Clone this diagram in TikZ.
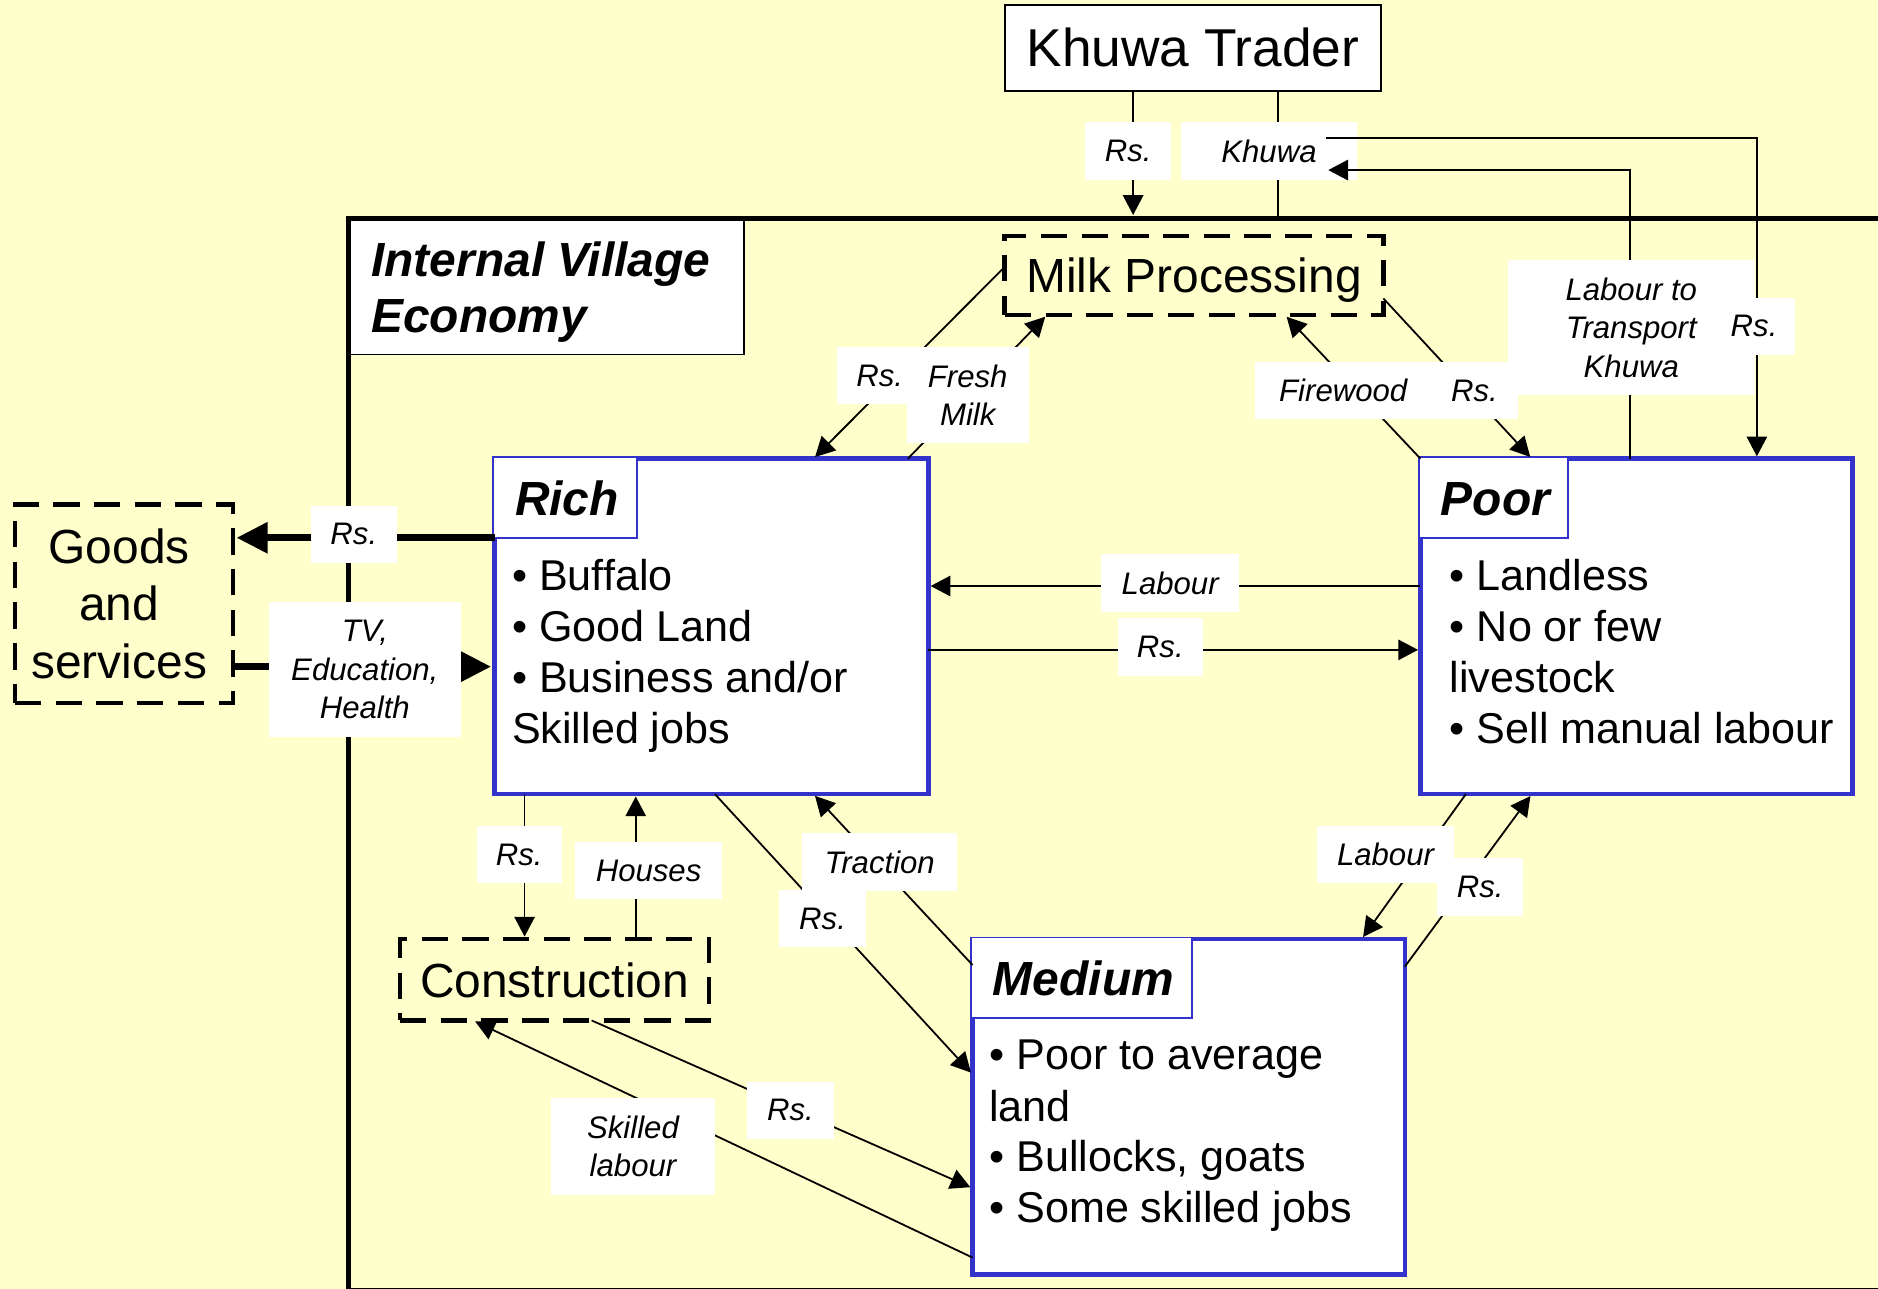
\documentclass[tikz,border=0pt]{standalone}
\usepackage{fontspec}
\setmainfont{Liberation Sans}
\usetikzlibrary{arrows.meta,calc}
\definecolor{bg}{RGB}{255,255,204}
\definecolor{boxblue}{RGB}{51,51,204}
\begin{document}
\begin{tikzpicture}[x=1pt,y=-1pt,
  every node/.style={inner sep=0pt, outer sep=0pt},
  lbl/.style={fill=white, font=\fontsize{26}{32}\selectfont\itshape, align=center},
  conn/.style={line width=1.5pt, shorten >=2pt, -{Triangle[length=16.5pt,width=17pt]}},
  plainline/.style={line width=1.5pt},
  thickarrow/.style={line width=5.5pt, shorten >=3pt, -{Triangle[length=26pt,width=25pt]}},
  dashbox/.style={draw, line width=4pt, dash pattern=on 22pt off 12pt, font=\fontsize{40}{48}\selectfont},
  groupbox/.style={draw=boxblue, line width=4pt, fill=white},
  titlebox/.style={draw=boxblue, line width=1.5pt, fill=white, minimum height=67.3pt, font=\fontsize{40}{48}\selectfont\bfseries\itshape},
  titletext/.style={anchor=base west, font=\fontsize{40}{48}\selectfont\bfseries\itshape},
  bulletline/.style={anchor=base west, font=\fontsize{36}{43}\selectfont},
  plainbox/.style={draw, line width=1.5pt, fill=white},
]
\fill[bg] (0,0) rectangle (1568,1076);
\useasboundingbox (0,0) rectangle (1568,1076);

% internal village economy
\node[plainbox, minimum width=330pt, minimum height=113pt] (ivebox) at (456,239.5) {};
\node[draw, line width=4pt, minimum width=1309pt, minimum height=894.5pt] (frame) at (945.5,629.75) {};
\node[titletext] (ive1) at (310,230.5) {Internal Village};
\node[titletext] (ive2) at (310,278) {Economy};

% main boxes
\node[plainbox, minimum width=314pt, minimum height=71.7pt, text depth=0pt, font=\fontsize{44.5}{53}\selectfont] (trader) at (996,39.8) {Khuwa Trader};
\node[dashbox, minimum width=316pt, minimum height=66pt, text depth=0pt] (milk) at (997,230) {Milk Processing};
\node[dashbox, minimum width=182pt, minimum height=166pt] (goods) at (103.5,504) {};
\node[align=center, font=\fontsize{40}{48}\selectfont] (goodstext) at (99.5,504) {Goods\\and\\services};
\node[dashbox, minimum width=258pt, minimum height=68pt, text depth=0pt] (constr) at (463,818) {Construction};

\node[groupbox, minimum width=362pt, minimum height=280pt] (rich) at (594,523) {};
\node[groupbox, minimum width=361pt, minimum height=280pt] (poor) at (1366.5,523) {};
\node[groupbox, minimum width=361pt, minimum height=280pt] (medium) at (992.5,924) {};

\node[titlebox, minimum width=120.3pt] (richt) at (471.9,415.4) {};
\node[titlebox, minimum width=124.3pt] (poort) at (1246.9,415.4) {};
\node[titlebox, minimum width=184.3pt] (mediumt) at (902.9,816.4) {};
\node[titletext] (richtt) at (430,430) {Rich};
\node[titletext] (poortt) at (1203,430) {Poor};
\node[titletext] (mediumtt) at (829,831) {Medium};

\node[bulletline] (r1) at (427.5,493) {• Buffalo};
\node[bulletline] (r2) at (427.5,536) {• Good Land};
\node[bulletline] (r3) at (427.5,578.5) {• Business and/or};
\node[bulletline] (r4) at (427.5,621) {Skilled jobs};
\node[bulletline] (p1) at (1210.5,493) {• Landless};
\node[bulletline] (p2) at (1210.5,536) {• No or few};
\node[bulletline] (p3) at (1210.5,578.5) {livestock};
\node[bulletline] (p4) at (1210.5,621) {• Sell manual labour};
\node[bulletline] (m1) at (826,893) {• Poor to average};
\node[bulletline] (m2) at (826,936) {land};
\node[bulletline] (m3) at (826,978.5) {• Bullocks, goats};
\node[bulletline] (m4) at (826,1021) {• Some skilled jobs};

% attachment points
\coordinate (trA) at ($(trader.south west)!0.341!(trader.south east)$);
\coordinate (trB) at ($(trader.south west)!0.726!(trader.south east)$);
\coordinate (kq1) at (1107,115);
\coordinate (kq2) at (1107,142);
\coordinate (pT1) at ($(poor.north west)!0.778!(poor.north east)$);
\coordinate (pT2) at ($(poor.north west)!0.4837!(poor.north east)$);
\coordinate (pT3) at ($(poor.north west)!0.2576!(poor.north east)$);
\coordinate (rT1) at ($(rich.north west)!0.953!(rich.north east)$);
\coordinate (rT2) at ($(rich.north west)!0.735!(rich.north east)$);
\coordinate (mB1) at ($(milk.south west)!0.111!(milk.south east)$);
\coordinate (mB2) at ($(milk.south west)!0.74!(milk.south east)$);
\coordinate (mL) at ($(milk.north west)!0.39!(milk.south west)$);
\coordinate (mR) at ($(milk.north east)!0.79!(milk.south east)$);
\coordinate (rL1) at ($(rich.north west)!0.2357!(rich.south west)$);
\coordinate (rL2) at ($(rich.north west)!0.62!(rich.south west)$);
\coordinate (pL1) at ($(poor.north west)!0.3796!(poor.south west)$);
\coordinate (pL2) at ($(poor.north west)!0.570!(poor.south west)$);
\coordinate (rB1) at ($(rich.south west)!0.069!(rich.south east)$);
\coordinate (rB2) at ($(rich.south west)!0.3254!(rich.south east)$);
\coordinate (rB3) at ($(rich.south west)!0.735!(rich.south east)$);
\coordinate (rB4) at ($(rich.south west)!0.508!(rich.south east)$);
\coordinate (mdL1) at ($(medium.north west)!0.0775!(medium.south west)$);
\coordinate (mdL2) at ($(medium.north west)!0.4036!(medium.south west)$);
\coordinate (mdL3) at ($(medium.north west)!0.743!(medium.south west)$);
\coordinate (mdL4) at ($(medium.north west)!0.95!(medium.south west)$);
\coordinate (pB1) at ($(poor.south west)!0.105!(poor.south east)$);
\coordinate (pB2) at ($(poor.south west)!0.2576!(poor.south east)$);
\coordinate (mdT) at ($(medium.north west)!0.90!(medium.north east)$);
\coordinate (mdR) at ($(medium.north east)!0.082!(medium.south east)$);
\coordinate (cB1) at ($(constr.south west)!0.236!(constr.south east)$);
\coordinate (cB2) at ($(constr.south west)!0.62!(constr.south east)$);

% connectors
\draw[conn, shorten >=3pt] (trA) -- (trA |- frame.north);
\draw[plainline] (trB) -- (trB |- frame.north);
\node[lbl, minimum width=147pt, minimum height=48pt] (khw) at (1059.5,126) {Khuwa};
\draw[conn] (pT2) |- (kq2);
\draw[conn] (kq1) -| (pT1);
\draw[conn] (mL) -- (rT2);
\draw[conn] (rT1) -- (mB1);
\draw[conn] (poor.north west) -- (mB2);
\draw[conn] (mR) -- (pT3);
\draw[thickarrow] (rL1) -- (rL1 -| goods.east);
\draw[thickarrow] (rL2 -| goods.east) -- (rL2);
\draw[conn] (pL1) -- (pL1 -| rich.east);
\draw[conn] (pL2 -| rich.east) -- (pL2);
\draw[conn] (rB1) -- (rB1 |- constr.north);
\draw[conn] (rB2 |- constr.north) -- (rB2);
\draw[conn] (mdL1) -- (rB3);
\draw[conn] (rB4) -- (mdL2);
\draw[conn] (pB1) -- (mdT);
\draw[conn] (mdR) -- (pB2);
\draw[conn] (mdL4) -- (cB1);
\draw[conn] (cB2) -- (mdL3);

% labels
\node[lbl, minimum width=72pt, minimum height=48pt] (trrs) at (942,126) {Rs.};
\node[lbl, minimum width=206pt, minimum height=113pt] (ltk) at (1362,273.5) {Labour to\\Transport\\Khuwa};
\node[lbl, minimum width=69pt, minimum height=47pt] (prs) at (1464.5,272.5) {Rs.};
\node[lbl, minimum width=71pt, minimum height=47pt] (frs) at (734.5,313.5) {Rs.};
\node[lbl, minimum width=102pt, minimum height=80pt] (fm) at (808,330) {Fresh\\Milk};
\node[lbl, minimum width=147pt, minimum height=48pt] (fw) at (1121.5,326) {Firewood};
\node[lbl, minimum width=72pt, minimum height=48pt] (mprs) at (1231,326) {Rs.};
\node[lbl, minimum width=71.3pt, minimum height=47.5pt] (grs) at (295.4,446.2) {Rs.};
\node[lbl, minimum width=160pt, minimum height=112pt] (tv) at (304.6,559) {TV,\\Education,\\Health};
\node[lbl, minimum width=115pt, minimum height=48pt] (lab1) at (977,486.7) {Labour};
\node[lbl, minimum width=71.5pt, minimum height=48pt] (rs1) at (968.8,540) {Rs.};
\node[lbl, minimum width=71pt, minimum height=47.3pt] (rcrs) at (433.5,713.4) {Rs.};
\node[lbl, minimum width=123pt, minimum height=48pt] (hs) at (541.5,727) {Houses};
\node[lbl, minimum width=129pt, minimum height=48pt] (trc) at (734.5,719.7) {Traction};
\node[lbl, minimum width=72.4pt, minimum height=48pt] (rmrs) at (686.8,767) {Rs.};
\node[lbl, minimum width=114.5pt, minimum height=47.3pt] (lab2) at (1156.8,713.4) {Labour};
\node[lbl, minimum width=71.6pt, minimum height=48pt] (mprs2) at (1235.8,740.5) {Rs.};
\node[lbl, minimum width=136.3pt, minimum height=80.8pt] (sk) at (528.5,957.4) {Skilled\\labour};
\node[lbl, minimum width=72.5pt, minimum height=48pt] (cmrs) at (660,927) {Rs.};
\end{tikzpicture}
\end{document}
